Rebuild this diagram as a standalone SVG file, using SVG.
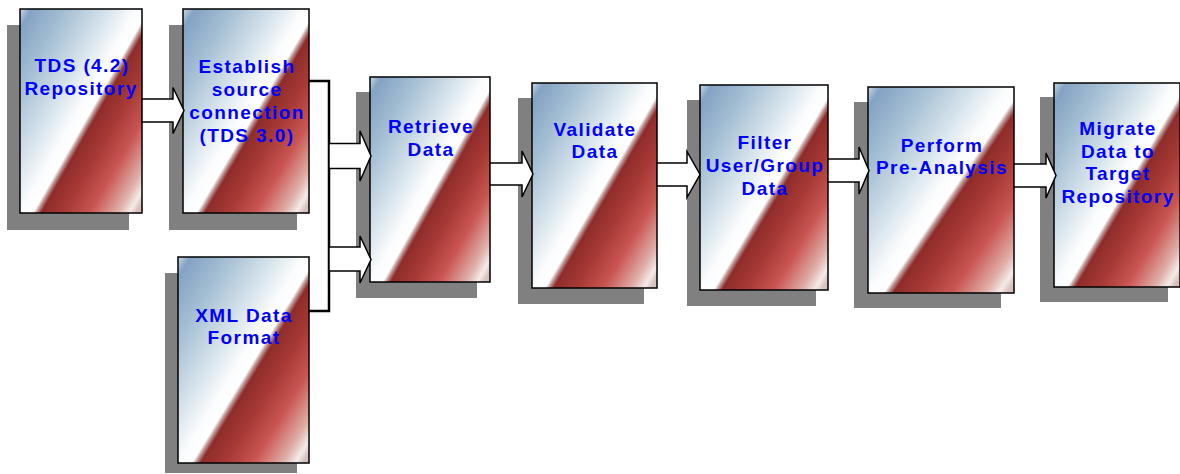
<svg xmlns="http://www.w3.org/2000/svg" width="1180" height="474" viewBox="0 0 1180 474">
<defs>
<linearGradient id="g" x1="0" y1="0" x2="1" y2="0.95">
<stop offset="0" stop-color="#c8d8e4"/>
<stop offset="0.05" stop-color="#84a2c3"/>
<stop offset="0.2" stop-color="#a4bed3"/>
<stop offset="0.38" stop-color="#d6e3ec"/>
<stop offset="0.5" stop-color="#fafcfd"/>
<stop offset="0.555" stop-color="#ffffff"/>
<stop offset="0.57" stop-color="#c09898"/>
<stop offset="0.59" stop-color="#8e2c2a"/>
<stop offset="0.69" stop-color="#a83a36"/>
<stop offset="0.8" stop-color="#c95552"/>
<stop offset="0.92" stop-color="#e0b0aa"/>
<stop offset="0.97" stop-color="#f4ebe8"/>
<stop offset="1" stop-color="#d8c0bc"/>
</linearGradient>
<style>
.sh{fill:#808080;}
.bx{fill:url(#g);stroke:#000;stroke-width:1.5;}
.t{font-family:"Liberation Sans",Arial,sans-serif;font-weight:bold;font-size:19px;letter-spacing:1.4px;fill:#0000ff;text-anchor:middle;}
.ar{fill:#fff;stroke:#000;stroke-width:1.5;stroke-linejoin:miter;}
.ln{fill:none;stroke:#000;stroke-width:2.5;}
</style>
</defs>
<rect width="1180" height="474" fill="#fff"/>

<g id="tds">
<rect class="sh" x="7" y="25" width="122" height="205"/>
<rect class="bx" x="20" y="9" width="122" height="204"/>
<text class="t" x="82" y="72">TDS (4.2)</text>
<text class="t" x="81" y="95">Repository</text>
</g>

<g id="establish">
<rect class="sh" x="169" y="25" width="128" height="205"/>
<rect class="bx" x="183" y="9" width="126" height="204"/>
<text class="t" x="247" y="73">Establish</text>
<text class="t" x="247" y="96">source</text>
<text class="t" x="247" y="119">connection</text>
<text class="t" x="247" y="142">(TDS 3.0)</text>
</g>

<g id="xml">
<rect class="sh" x="165" y="273" width="132" height="200"/>
<rect class="bx" x="178" y="257" width="131" height="206"/>
<text class="t" x="244" y="322">XML Data</text>
<text class="t" x="244" y="344">Format</text>
</g>

<g id="retrieve">
<rect class="sh" x="356" y="92" width="121" height="206"/>
<rect class="bx" x="370" y="77" width="120" height="205"/>
<text class="t" x="431" y="133">Retrieve</text>
<text class="t" x="431" y="156">Data</text>
</g>

<g id="validate">
<rect class="sh" x="518" y="98" width="126" height="206"/>
<rect class="bx" x="532" y="83" width="125" height="205"/>
<text class="t" x="595" y="136">Validate</text>
<text class="t" x="595" y="158">Data</text>
</g>

<g id="filter">
<rect class="sh" x="687" y="100" width="129" height="206"/>
<rect class="bx" x="700" y="85" width="128" height="205"/>
<text class="t" x="765" y="149">Filter</text>
<text class="t" x="765" y="172">User/Group</text>
<text class="t" x="765" y="195">Data</text>
</g>

<g id="perform">
<rect class="sh" x="854" y="102" width="147" height="206"/>
<rect class="bx" x="868" y="87" width="146" height="206"/>
<text class="t" x="942" y="152">Perform</text>
<text class="t" x="942" y="174">Pre-Analysis</text>
</g>

<g id="migrate">
<rect class="sh" x="1040" y="97" width="128" height="205"/>
<rect class="bx" x="1054" y="83" width="126" height="204"/>
<text class="t" x="1118" y="135">Migrate</text>
<text class="t" x="1118" y="158">Data to</text>
<text class="t" x="1118" y="180">Target</text>
<text class="t" x="1118" y="203">Repository</text>
</g>

<g id="connectors">
<path class="ar" d="M142,99 L173,99 L173,87.5 L184,110.5 L173,133.5 L173,122 L142,122 Z"/>
<path class="ln" d="M309,81 L329,81 L329,311 L308,311"/>
<path class="ar" d="M329,143.5 L360,143.5 L360,131 L371,156 L360,181 L360,168.5 L329,168.5 Z"/>
<path class="ar" d="M329,247 L360,247 L360,236 L371,259.5 L360,283 L360,271 L329,271 Z"/>
<path class="ar" d="M490,163 L522,163 L522,151 L533,174 L522,197 L522,185 L490,185 Z"/>
<path class="ar" d="M657,163 L687,163 L687,151.5 L700,174.5 L687,197.5 L687,186 L657,186 Z"/>
<path class="ar" d="M828,159 L859,159 L859,147 L869,170.5 L859,194 L859,182 L828,182 Z"/>
<path class="ar" d="M1014,164 L1046,164 L1046,153 L1056,175.5 L1046,198 L1046,187 L1014,187 Z"/>
</g>
</svg>
